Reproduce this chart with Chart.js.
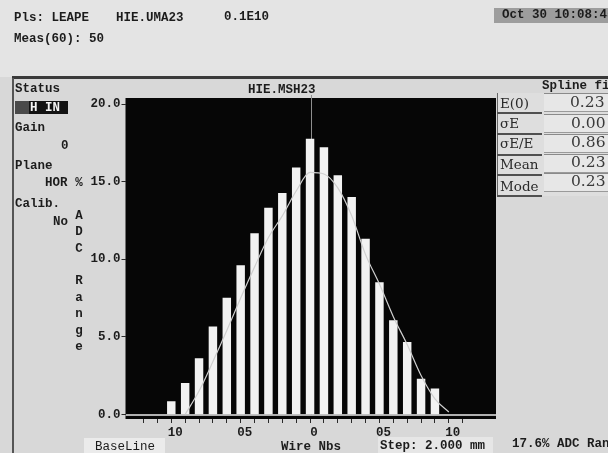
<!DOCTYPE html>
<html>
<head>
<meta charset="utf-8">
<script src="https://cdn.jsdelivr.net/npm/chart.js@4.4.1/dist/chart.umd.min.js"></script>
<style>
html,body{margin:0;padding:0;}
body{width:608px;height:453px;overflow:hidden;position:relative;background:#d8d8d8;
  font-family:"Liberation Mono","DejaVu Sans Mono",monospace;color:#1c1c1c;}
.bg{position:absolute;}
#topband{left:0;top:0;width:608px;height:77px;background:#e4e4e4;}
#rule{left:12px;top:76px;width:596px;height:3px;background:#3a3a3a;}
#edge{left:12px;top:78px;width:2px;height:375px;background:#555;}
#datebox{left:494px;top:8px;width:120px;height:15px;background:#9d9d9d;}
#hin{left:15px;top:101px;width:53px;height:13px;background:#121212;}
#hin i{position:absolute;left:0;top:0;width:14px;height:13px;background:#4a4a4a;}
#basebox{left:84px;top:438px;width:81px;height:16px;background:#ebebeb;}
#stepbox{left:378px;top:437px;width:115px;height:17px;background:#e6e6e6;}
#tablebox{left:497px;top:93px;width:112px;height:103px;background:#dedede;border-left:1px solid #666;}
.lab{position:absolute;left:497px;width:45px;height:19px;border-bottom:2px solid #505050;}
.val{position:absolute;left:544px;width:70px;height:17px;background:#e7e7e7;border-top:1px solid #8a8a8a;border-bottom:1px solid #9a9a9a;}
canvas{position:absolute;left:0;top:0;}
.t{position:absolute;white-space:pre;font-weight:bold;font-size:12.5px;line-height:14px;}
.w{color:#f4f4f4;}
.s{font-family:"DejaVu Serif",serif;font-weight:normal;font-size:13.5px;line-height:16px;color:#2a2a2a;}
.v{font-family:"DejaVu Serif",serif;font-weight:normal;font-size:15.5px;line-height:16px;color:#3a3a3a;}
.vt{position:absolute;left:73px;top:175px;width:12px;display:flex;flex-direction:column;
  font-weight:bold;font-size:12.5px;text-align:center;}
.vt span{display:block;height:16.4px;line-height:16.4px;white-space:pre;}
</style>
</head>
<body>
<div class="bg" id="topband"></div>
<div class="bg" id="rule"></div>
<div class="bg" id="edge"></div>
<div class="bg" id="datebox"></div>
<div class="bg" id="hin"><i></i></div>
<div class="bg" id="basebox"></div>
<div class="bg" id="stepbox"></div>
<div class="bg" id="tablebox"></div>
<div class="lab" style="top:93px"></div>
<div class="lab" style="top:114px"></div>
<div class="lab" style="top:135px"></div>
<div class="lab" style="top:155px"></div>
<div class="lab" style="top:176px"></div>
<div class="val" style="top:93px"></div>
<div class="val" style="top:114px"></div>
<div class="val" style="top:134px"></div>
<div class="val" style="top:154px"></div>
<div class="val" style="top:173px"></div>

<canvas id="c" width="608" height="453"></canvas>

<!-- header line -->
<div class="t" style="left:14px;top:11px">Pls: LEAPE</div>
<div class="t" style="left:116px;top:11px">HIE.UMA23</div>
<div class="t" style="left:224px;top:10px">0.1E10</div>
<div class="t" style="left:14px;top:32px">Meas(60): 50</div>
<div class="t" style="left:502px;top:8px">Oct 30 10:08:45</div>

<!-- status panel -->
<div class="t" style="left:15px;top:82px">Status</div>
<div class="t w" style="left:30px;top:101px">H IN</div>
<div class="t" style="left:15px;top:121px">Gain</div>
<div class="t" style="left:61px;top:139px">0</div>
<div class="t" style="left:15px;top:159px">Plane</div>
<div class="t" style="left:45px;top:176px">HOR</div>
<div class="t" style="left:15px;top:197px">Calib.</div>
<div class="t" style="left:53px;top:215px">No</div>
<div class="vt"><span>%</span><span> </span><span>A</span><span>D</span><span>C</span><span> </span><span>R</span><span>a</span><span>n</span><span>g</span><span>e</span></div>

<!-- plot title -->
<div class="t" style="left:248px;top:83px">HIE.MSH23</div>

<!-- fit results -->
<div class="t" style="left:542px;top:79px">Spline fit</div>
<div class="t s" style="left:500px;top:95px">E(0)</div>
<div class="t s" style="left:500px;top:115px">σE</div>
<div class="t s" style="left:500px;top:135px">σE/E</div>
<div class="t s" style="left:500px;top:156px">Mean</div>
<div class="t s" style="left:500px;top:178px">Mode</div>
<div class="t v" style="left:570px;top:94px">0.23</div>
<div class="t v" style="left:571px;top:115px">0.00</div>
<div class="t v" style="left:571px;top:134px">0.86</div>
<div class="t v" style="left:571px;top:154px">0.23</div>
<div class="t v" style="left:571px;top:173px">0.23</div>

<!-- footer -->
<div class="t" style="left:95px;top:440px;font-weight:normal">BaseLine</div>
<div class="t" style="left:281px;top:440px">Wire Nbs</div>
<div class="t" style="left:380px;top:439px">Step: 2.000 mm</div>
<div class="t" style="left:512px;top:437px">17.6% ADC Range</div>

<script>
// Wire profile: charge per wire (% of ADC range) and the spline fit through it
const wires  = [-10, -9, -8, -7, -6, -5, -4, -3, -2, -1, 0, 1, 2, 3, 4, 5, 6, 7, 8, 9];
const counts = [0.82, 2.0, 3.6, 5.65, 7.5, 9.6, 11.65, 13.3, 14.25, 15.9,
                17.75, 17.2, 15.4, 14.0, 11.3, 8.5, 6.05, 4.65, 2.27, 1.64];
const fitWires  = [-9, -8, -7, -6, -5, -4, -3, -2, -1, 0, 1, 2, 3, 4, 5, 6, 7, 8, 9, 10];
const fitValues = [0, 1.5, 3.4, 5.4, 7.5, 9.5, 11.4, 12.8, 14.4, 15.6,
                   15.5, 14.6, 12.8, 10.3, 8.4, 6.3, 4.5, 2.5, 1.0, 0.15];
const meanWire = 0.07;
const xTickValues = [-12, -11, -10, -9, -8, -7, -6, -5, -4, -3, -2, -1, 0, 1, 2, 3, 4, 5, 6, 7, 8, 9, 10, 11];
const xTickLabels = {"-10": "10", "-5": "05", "0": "0", "5": "05", "10": "10"};
const yTickValues = [0, 5, 10, 15, 20];

const tickFont = {family: "Liberation Mono", size: 12.5, weight: "bold"};

const screenPlugin = {
  id: "screen",
  beforeDraw(chart) {
    const {ctx, chartArea: a, scales: {y}} = chart;
    ctx.save();
    ctx.fillStyle = "#060606";
    ctx.fillRect(a.left, a.top, a.right - a.left, a.bottom - a.top);
    const y0 = Math.round(y.getPixelForValue(0));
    ctx.fillStyle = "#b0b0b0";
    ctx.fillRect(a.left, y0, a.right - a.left, 2);
    ctx.restore();
  },
  beforeDatasetsDraw(chart) {
    const {ctx, chartArea: a, scales: {x, y}} = chart;
    const xm = Math.round(x.getPixelForValue(meanWire)) + 0.5;
    ctx.save();
    ctx.strokeStyle = "#8e8e8e";
    ctx.lineWidth = 1;
    ctx.beginPath();
    ctx.moveTo(xm, a.top - 3);
    ctx.lineTo(xm, y.getPixelForValue(0));
    ctx.stroke();
    ctx.restore();
  }
};

new Chart(document.getElementById("c"), {
  type: "bar",
  data: {
    datasets: [
      {
        type: "line",
        data: fitWires.map((w, i) => ({x: w, y: fitValues[i]})),
        borderColor: "#cfcfcf",
        borderWidth: 1.2,
        pointRadius: 0,
        cubicInterpolationMode: "monotone",
        order: 0
      },
      {
        type: "bar",
        data: wires.map((w, i) => ({x: w, y: counts[i]})),
        backgroundColor: "#f2f2f2",
        borderWidth: 0,
        barThickness: 7.8,
        order: 1
      }
    ]
  },
  options: {
    responsive: false,
    animation: false,
    devicePixelRatio: 1,
    layout: {padding: {left: 0, right: 112, top: 98, bottom: 0}},
    plugins: {legend: {display: false}, tooltip: {enabled: false}, title: {display: false}},
    scales: {
      x: {
        type: "linear",
        min: -13.3,
        max: 13.4,
        offset: false,
        afterBuildTicks: s => { s.ticks = xTickValues.map(v => ({value: v})); },
        afterFit: s => { s.height = 34; },
        border: {display: false},
        grid: {drawOnChartArea: false, drawTicks: true, tickLength: 4, color: "#2a2a2a", offset: false},
        ticks: {
          autoSkip: false, maxRotation: 0, padding: 2, labelOffset: 4,
          color: "#1c1c1c", font: tickFont,
          callback: v => xTickLabels[String(v)] ?? ""
        }
      },
      y: {
        type: "linear",
        min: -0.3,
        max: 20.4,
        afterBuildTicks: s => { s.ticks = yTickValues.map(v => ({value: v})); },
        afterFit: s => { s.width = 125.5; },
        border: {display: false},
        grid: {drawOnChartArea: false, drawTicks: true, tickLength: 4, color: "#2a2a2a"},
        ticks: {
          padding: 1, color: "#1c1c1c", font: tickFont,
          callback: v => Number(v).toFixed(1)
        }
      }
    }
  },
  plugins: [screenPlugin]
});
</script>
</body>
</html>
